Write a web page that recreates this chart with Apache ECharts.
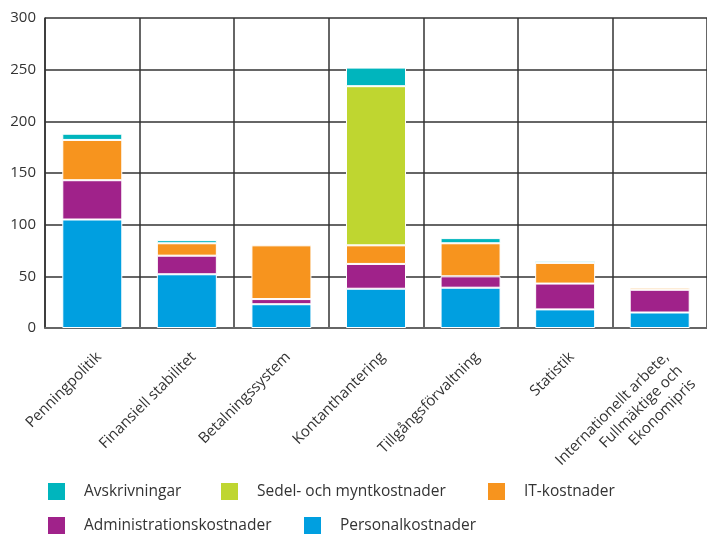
<!DOCTYPE html>
<html>
<head>
<meta charset="utf-8">
<script src="https://cdn.jsdelivr.net/npm/echarts@6/dist/echarts.min.js"></script>
<style>
html, body { margin: 0; padding: 0; background: #fff; }
#chart { width: 707px; height: 534px; }
</style>
</head>
<body>
<div id="chart"></div>
<script>
// kostnader per verksamhet, miljoner kronor
const categories = [
  "Penningpolitik",
  "Finansiell stabilitet",
  "Betalningssystem",
  "Kontanthantering",
  "Tillgångsförvaltning",
  "Statistik",
  "Internationellt arbete,\nFullmäktige och\nEkonomipris"
];
const personalkostnader = [105, 52, 23, 38, 39, 18, 15];
const administrationskostnader = [38, 18, 5, 24, 11, 25, 22];
const itKostnader = [39, 12, 52, 18, 32, 20, 2];
const sedelOchMynt = [null, null, null, 154, null, null, null];
const avskrivningar = [6, 3, null, 18, 5, 2, null];
const yTicks = [0, 50, 100, 150, 200, 250, 300];

const font = "'Open Sans', sans-serif";
const chart = echarts.init(document.getElementById("chart"));

function bar(name, data, color) {
  return {
    name: name,
    type: "bar",
    stack: "total",
    data: data,
    barWidth: 60,
    itemStyle: { color: color, borderColor: "#fff", borderWidth: 1 }
  };
}

function legendAt(name, left, top) {
  return {
    data: [name],
    left: left,
    top: top,
    icon: "rect",
    itemWidth: 19,
    itemHeight: 19,
    padding: 0,
    selectedMode: false,
    textStyle: { fontFamily: font, fontSize: 15.5, color: "#333", padding: [0, 0, 0, 13] }
  };
}

const option = {
  animation: false,
  legend: [
    legendAt("Avskrivningar", 46, 481),
    legendAt("Sedel- och myntkostnader", 219, 481),
    legendAt("IT-kostnader", 486, 481),
    legendAt("Administrationskostnader", 46, 515),
    legendAt("Personalkostnader", 302, 515)
  ],
  grid: { left: 45, right: -4, top: 18, bottom: 206 },
  xAxis: {
    type: "category",
    data: categories,
    axisLine: { show: true, lineStyle: { color: "#666", width: 2 } },
    axisTick: { show: false },
    splitLine: { show: true, lineStyle: { color: "#333", width: 1.5 } },
    axisLabel: {
      interval: 0,
      rotate: 45,
      margin: 20,
      verticalAlign: "top",
      fontFamily: font,
      fontSize: 15,
      color: "#333",
      lineHeight: 19
    }
  },
  yAxis: {
    type: "value",
    min: yTicks[0],
    max: yTicks[yTicks.length - 1],
    interval: 50,
    axisLine: { show: true, lineStyle: { color: "#333", width: 1.5 } },
    axisTick: { show: false },
    splitLine: { show: true, lineStyle: { color: "#333", width: 1.5 } },
    axisLabel: { fontFamily: font, fontSize: 15, color: "#333", margin: 9 }
  },
  series: [
    bar("Personalkostnader", personalkostnader, "#009fe0"),
    bar("Administrationskostnader", administrationskostnader, "#a0228a"),
    bar("IT-kostnader", itKostnader, "#f7941e"),
    bar("Sedel- och myntkostnader", sedelOchMynt, "#bfd630"),
    bar("Avskrivningar", avskrivningar, "#00b5bd")
  ]
};

chart.setOption(option);
</script>
</body>
</html>
